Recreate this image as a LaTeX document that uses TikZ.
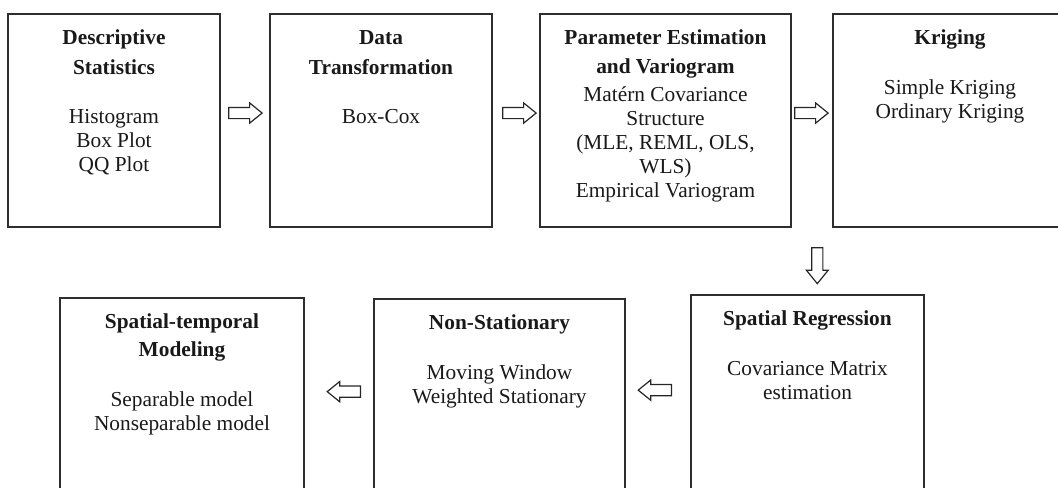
\documentclass[tikz,border=0pt]{standalone}
\usepackage{fontspec}
\setmainfont{Liberation Serif}
\usetikzlibrary{shapes.arrows,fit,calc}

% fixed height for the first line of every stage text
\newcommand{\firstline}{\rule{0pt}{12pt}}

\begin{document}
\begin{tikzpicture}[x=0.75pt,y=-0.75pt,
  stage/.style={draw=black!82, line width=1.3pt, inner sep=0pt},
  stagetext/.style={anchor=north, align=center, inner sep=0pt,
    font=\fontsize{16}{18}\selectfont, text=black!90},
  flowarrow/.style={single arrow, draw=black!85, line width=0.9pt, fill=white,
    inner sep=3.75pt, text height=0pt, text depth=0pt, text width=0pt,
    minimum height=25pt, single arrow head extend=3.4pt, single arrow tip angle=78},
]
\useasboundingbox (0,0) rectangle (1058,487);
\clip (0,0) rectangle (1058,487);

% upper row of stages
\node[stage, fit={(8,14) (220,227)}]   (b1) {};
\node[stage, fit={(270,14) (492,227)}] (b2) {};
\node[stage, fit={(540,14) (791,227)}] (b3) {};
\node[stage, fit={(833,14) (1067,227)}] (b4) {};

% lower row of stages (running past the lower edge)
\node[stage, fit={(691,295) (924,510)}] (b7) {};
\node[stage, fit={(374,299) (625,510)}] (b6) {};
\node[stage, fit={(60,298) (304,510)}]  (b5) {};

% stage texts
\node[stagetext] (t1) at ([yshift=-11.6pt]b1.north)
  {\firstline\textbf{Descriptive}\\[4.5pt]\textbf{Statistics}\\[18.75pt]Histogram\\Box Plot\\QQ Plot};
\node[stagetext] (t2) at ([yshift=-11.6pt]b2.north)
  {\firstline\textbf{Data}\\[4.5pt]\textbf{Transformation}\\[18.75pt]Box-Cox};
\node[stagetext] (t3) at ([yshift=-11.6pt]b3.north)
  {\firstline\textbf{Parameter Estimation}\\[3.75pt]\textbf{and Variogram}\\[3pt]Matérn Covariance\\Structure\\(MLE, REML, OLS,\\WLS)\\Empirical Variogram};
\node[stagetext] (t4) at ([yshift=-11.6pt]b4.north)
  {\firstline\textbf{Kriging}\\[19.5pt]Simple Kriging\\Ordinary Kriging};
\node[stagetext] (t7) at ([yshift=-11.2pt]b7.north)
  {\firstline\textbf{Spatial Regression}\\[19.5pt]Covariance Matrix\\estimation};
\node[stagetext] (t6) at ([yshift=-11.2pt]b6.north)
  {\firstline\textbf{Non-Stationary}\\[19.5pt]Moving Window\\Weighted Stationary};
\node[stagetext] (t5) at ([yshift=-11.6pt]b5.north)
  {\firstline\textbf{Spatial-temporal}\\[3pt]\textbf{Modeling}\\[19.5pt]Separable model\\Nonseparable model};

% hollow block arrows between the stages
\coordinate (m12) at ($(b1.east)!.5!(b2.west)$);
\coordinate (m23) at ($(b2.east)!.5!(b3.west)$);
\coordinate (m34) at ($(b3.east)!.5!(b4.west)$);
\coordinate (m47) at ($(b4.south west)!.5!(b7.north)$);
\coordinate (m76) at ($(b6.north east)!.5!(b7.north west)$);
\coordinate (m65) at ($(b5.north east)!.5!(b6.north west)$);

\node[flowarrow] (a12) at ([yshift=5.6pt,xshift=-2.25pt]m12) {};
\node[flowarrow] (a23) at ([yshift=5.6pt]m23) {};
\node[flowarrow] (a34) at ([yshift=5.6pt,xshift=-3pt]m34) {};
\node[flowarrow, shape border rotate=270, minimum height=27pt,
      single arrow head extend=4pt] (a47) at ([xshift=-1.9pt,yshift=-0.9pt]m47) {};
\node[flowarrow, shape border rotate=180] (a76) at ([yshift=-70.5pt,xshift=0.25pt]m76) {};
\node[flowarrow, shape border rotate=180] (a65) at ([yshift=-70.5pt,xshift=6.25pt]m65) {};
\end{tikzpicture}
\end{document}
